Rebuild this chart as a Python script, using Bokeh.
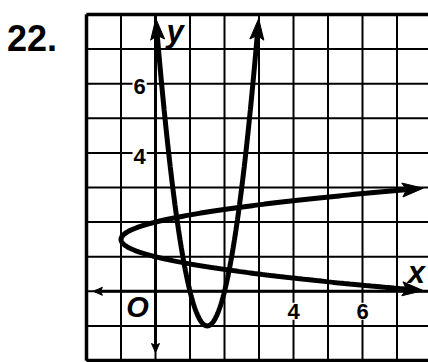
import numpy as np
from bokeh.plotting import figure
from bokeh.models import Range1d, Label
from bokeh.embed import file_html
from bokeh.resources import INLINE

# ---------------- data ----------------
problem_number = "22."
grid_x = [-2, -1, 0, 1, 2, 3, 4, 5, 6, 7, 8]
grid_y = [-2, -1, 0, 1, 2, 3, 4, 5, 6, 7, 8]
x_tick_values = [4, 6]
x_tick_labels = ["4", "6"]
y_tick_values = [4, 6]
y_tick_labels = ["4", "6"]

# upward parabola  y = a (x - h)^2 + k
parab_a = 4
parab_h = 1.5
parab_k = -1
parab_x_span = [0.01, 2.99]

# sideways parabola  x = a (y - k)^2 + h
side_a = 4
side_k = 1.5
side_h = -1
side_y_span = [0.02, 2.98]

# axis arrow ends
x_axis_start = -1.75
y_axis_start = -1.72

# ---------------- figure ----------------
W, H = 428, 362
SX = 34.5   # px per unit
SY = 34.6
LEFT_PX = 86   # x = -2 at this px inside the figure
TOP_PX = 14    # y = 8 at this px inside the figure
x0r = grid_x[0] - LEFT_PX / SX
x1r = x0r + W / SX
y1r = grid_y[-1] + TOP_PX / SY
y0r = y1r - H / SY

p = figure(width=W, height=H, output_backend="svg", toolbar_location=None,
           x_range=Range1d(x0r, x1r), y_range=Range1d(y0r, y1r),
           x_axis_type=None, y_axis_type=None, min_border=0)
p.outline_line_color = None
p.background_fill_color = "white"
p.border_fill_color = "white"
p.grid.visible = False

gx0, gx1 = grid_x[0], grid_x[-1]
gy0, gy1 = grid_y[0], grid_y[-1]

# grid lines
p.segment(x0=grid_x, y0=[gy0] * len(grid_x), x1=grid_x, y1=[gy1] * len(grid_x),
          line_color="black", line_width=2)
p.segment(x0=[gx0] * len(grid_y), y0=grid_y, x1=[gx1] * len(grid_y), y1=grid_y,
          line_color="black", line_width=2)
# borders
p.segment(x0=[gx0, gx0, gx0], y0=[gy0, gy0, gy1], x1=[gx0, gx1, gx1], y1=[gy1, gy0, gy1],
          line_color="black", line_width=3.5)


def head_patch(xt, yt, xp, yp, length, half_w):
    # arrow head triangle, sized in pixels, placed in data space
    dx = (xt - xp) * SX
    dy = (yt - yp) * SY
    n = np.hypot(dx, dy)
    ux, uy = dx / n, dy / n
    bx, by = -ux * length, -uy * length
    px_, py_ = -uy * half_w, ux * half_w
    xs = [xt, xt + (bx + px_) / SX, xt + (0.8 * bx) / SX, xt + (bx - px_) / SX]
    ys = [yt, yt + (by + py_) / SY, yt + (0.8 * by) / SY, yt + (by - py_) / SY]
    return xs, ys


def trim(xs, ys, length):
    d0 = np.hypot((xs - xs[0]) * SX, (ys - ys[0]) * SY)
    d1 = np.hypot((xs - xs[-1]) * SX, (ys - ys[-1]) * SY)
    m = (d0 > length) & (d1 > length)
    return xs[m], ys[m]


heads_x, heads_y = [], []

# axes
p.segment(x0=[x_axis_start, 0], y0=[0, y_axis_start], x1=[gx1, 0], y1=[0, gy1],
          line_color="black", line_width=3)
for (xt, yt, xp, yp) in [(x_axis_start - 0.05, 0, 0, 0), (0, y_axis_start - 0.05, 0, 0)]:
    hx, hy = head_patch(xt, yt, xp, yp, 9, 4)
    heads_x.append(hx)
    heads_y.append(hy)

# curves
HL, HW = 21, 7
cx = np.linspace(parab_x_span[0], parab_x_span[1], 400)
cy = parab_a * (cx - parab_h) ** 2 + parab_k
tx, ty = trim(cx, cy, HL * 0.6)
p.line(tx, ty, line_color="black", line_width=5)
for i_t, i_p in [(0, 8), (-1, -9)]:
    hx, hy = head_patch(cx[i_t], cy[i_t], cx[i_p], cy[i_p], HL, HW)
    heads_x.append(hx)
    heads_y.append(hy)

sy = np.linspace(side_y_span[0], side_y_span[1], 400)
sx = side_a * (sy - side_k) ** 2 + side_h
tx, ty = trim(sx, sy, HL * 0.6)
p.line(tx, ty, line_color="black", line_width=5)
for i_t, i_p in [(0, 8), (-1, -9)]:
    hx, hy = head_patch(sx[i_t], sy[i_t], sx[i_p], sy[i_p], HL, HW)
    heads_x.append(hx)
    heads_y.append(hy)

p.patches(heads_x, heads_y, fill_color="black", line_color="black", line_width=1)

FONT = "Liberation Sans"
for v, t in zip(y_tick_values, y_tick_labels):
    p.add_layout(Label(x=-0.46, y=v - 0.09, text=t, text_font=FONT, text_font_style="bold",
                       text_font_size="22px", text_align="center", text_baseline="middle",
                       text_color="black", background_fill_color="white", padding=1))
for v, t in zip(x_tick_values, x_tick_labels):
    p.add_layout(Label(x=v, y=-0.58, text=t, text_font=FONT, text_font_style="bold",
                       text_font_size="22px", text_align="center", text_baseline="middle",
                       text_color="black", background_fill_color="white", padding=1))

p.add_layout(Label(x=-0.52, y=-0.46, text="O", text_font=FONT, text_font_style="bold italic",
                   text_font_size="29px", text_align="center", text_baseline="middle",
                   text_color="black"))
p.add_layout(Label(x=7.56, y=0.55, text="x", text_font=FONT, text_font_style="bold italic",
                   text_font_size="31px", text_align="center", text_baseline="middle",
                   text_color="black"))
p.add_layout(Label(x=0.57, y=7.52, text="y", text_font=FONT, text_font_style="bold italic",
                   text_font_size="31px", text_align="center", text_baseline="middle",
                   text_color="black"))
p.add_layout(Label(x=gx0 - (LEFT_PX - 31.5) / SX, y=y1r - 37 / SY, text=problem_number,
                   text_font=FONT, text_font_style="bold", text_font_size="36px",
                   text_align="center", text_baseline="alphabetic", text_color="black"))

open("out.html", "w").write(file_html(p, INLINE))
